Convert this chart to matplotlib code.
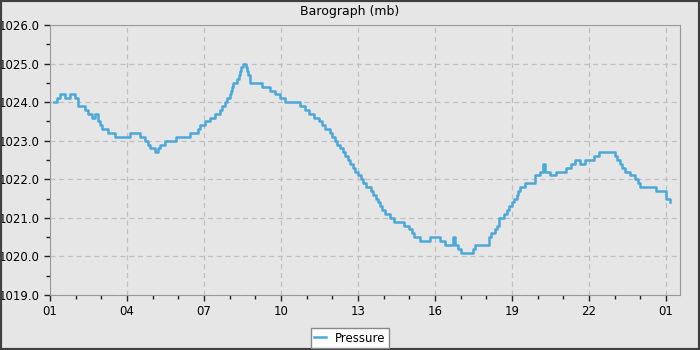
import matplotlib
matplotlib.use("Agg")
import matplotlib.pyplot as plt
from matplotlib.ticker import MultipleLocator, FuncFormatter
from matplotlib.patches import Rectangle

# hours since 01:00, pressure in mb
hours = [0.15, 0.27, 0.4, 0.58, 0.78, 0.97, 1.09, 1.25, 1.37, 1.48, 1.64, 1.75, 1.87,
         1.95, 2.03, 2.26, 2.53, 2.92, 3.12, 3.3, 3.5, 3.7, 3.8, 3.9, 4.1, 4.2, 4.3,
         4.5, 4.7, 4.9, 5.3, 5.45, 5.65, 5.75, 5.85, 6.04, 6.23, 6.43, 6.62, 6.72,
         6.82, 6.9, 7.0, 7.05, 7.1, 7.15, 7.3, 7.35, 7.4, 7.46, 7.52, 7.64, 7.67, 7.7,
         7.8, 8.1, 8.26, 8.57, 8.77, 8.96, 9.15, 9.5, 9.74, 9.93, 10.1, 10.3, 10.5,
         10.6, 10.7, 10.9, 11.0, 11.1, 11.2, 11.3, 11.4, 11.5, 11.6, 11.7, 11.8, 11.9,
         12.0, 12.1, 12.2, 12.3, 12.5, 12.6, 12.7, 12.78, 12.85, 12.95, 13.05, 13.25,
         13.4, 13.6, 13.8, 14.0, 14.1, 14.2, 14.4, 14.6, 14.8, 15.2, 15.4, 15.6, 15.7,
         15.8, 15.9, 16.0, 16.4, 16.48, 16.55, 16.95, 17.1, 17.2, 17.35, 17.42, 17.5,
         17.7, 17.8, 17.9, 18.0, 18.1, 18.2, 18.25, 18.3, 18.5, 18.7, 18.9, 19.1,
         19.2, 19.3, 19.5, 19.7, 19.9, 20.1, 20.3, 20.45, 20.65, 20.85, 21.0, 21.2,
         21.4, 21.8, 22.0, 22.1, 22.2, 22.3, 22.4, 22.6, 22.8, 22.9, 23.0, 23.4,
         23.6, 23.8, 24.0, 24.15]
pressure = [1024.0, 1024.1, 1024.2, 1024.1, 1024.2, 1024.1, 1023.9, 1023.9, 1023.8, 1023.7,
            1023.6, 1023.7, 1023.5, 1023.4, 1023.3, 1023.2, 1023.1, 1023.1, 1023.2,
            1023.2, 1023.1, 1023.0, 1022.9, 1022.8, 1022.7, 1022.8, 1022.9, 1023.0,
            1023.0, 1023.1, 1023.1, 1023.2, 1023.2, 1023.3, 1023.4, 1023.5, 1023.6,
            1023.7, 1023.8, 1023.9, 1024.0, 1024.1, 1024.2, 1024.3, 1024.4, 1024.5,
            1024.6, 1024.7, 1024.8, 1024.9, 1025.0, 1024.9, 1024.8, 1024.7, 1024.5,
            1024.5, 1024.4, 1024.3, 1024.2, 1024.1, 1024.0, 1024.0, 1023.9, 1023.8,
            1023.7, 1023.6, 1023.5, 1023.4, 1023.3, 1023.2, 1023.1, 1023.0, 1022.9,
            1022.8, 1022.7, 1022.6, 1022.5, 1022.4, 1022.3, 1022.2, 1022.1, 1022.0,
            1021.9, 1021.8, 1021.7, 1021.6, 1021.5, 1021.4, 1021.3, 1021.2, 1021.1,
            1021.0, 1020.9, 1020.9, 1020.8, 1020.7, 1020.6, 1020.5, 1020.4, 1020.4,
            1020.5, 1020.4, 1020.3, 1020.3, 1020.5, 1020.3, 1020.2, 1020.1, 1020.1,
            1020.2, 1020.3, 1020.3, 1020.5, 1020.6, 1020.7, 1020.8, 1021.0, 1021.1,
            1021.2, 1021.3, 1021.4, 1021.5, 1021.6, 1021.7, 1021.8, 1021.9, 1021.9,
            1022.1, 1022.2, 1022.4, 1022.2, 1022.1, 1022.2, 1022.2, 1022.3, 1022.4,
            1022.5, 1022.4, 1022.5, 1022.5, 1022.6, 1022.7, 1022.7, 1022.6, 1022.5,
            1022.4, 1022.3, 1022.2, 1022.1, 1022.0, 1021.9, 1021.8, 1021.8, 1021.7,
            1021.7, 1021.5, 1021.4]

bg = "#e6e6e6"
fig = plt.figure(figsize=(7, 3.5), dpi=100, facecolor=bg)
ax = fig.add_axes([50/700, 1-295/350, 630/700, 270/350], facecolor=bg)

ax.plot(hours, pressure, drawstyle="steps-post", color="#4ba8d8", lw=1.8, label="Pressure")

ax.set_xlim(0, 24.55)
ax.set_ylim(1019, 1026)
ax.xaxis.set_major_locator(MultipleLocator(3))
ax.xaxis.set_minor_locator(MultipleLocator(1))
ax.xaxis.set_major_formatter(FuncFormatter(lambda v, p: "%02d" % ((int(round(v)) + 1) % 24)))
ax.yaxis.set_major_locator(MultipleLocator(1))
ax.yaxis.set_minor_locator(MultipleLocator(0.5))
ax.yaxis.set_major_formatter(FuncFormatter(lambda v, p: "%.1f" % v))
ax.tick_params(which="both", labelsize=8.5, color="#222222", width=1)
ax.tick_params(which="major", length=4)
ax.tick_params(which="minor", length=3)
ax.grid(True, which="major", ls=(0, (4, 3)), color="#c0c0c0", lw=0.9)
for s in ax.spines.values():
    s.set_color("#999999")

fig.text(0.5, 1-12/350, "Barograph (mb)", ha="center", va="center", fontsize=9)
fig.legend(loc="center", bbox_to_anchor=(350/700, 1-338/350), fontsize=8.5, frameon=True,
           fancybox=False, edgecolor="#888888", facecolor="white", framealpha=1,
           handlelength=1, borderpad=0.3)
fig.patches.append(Rectangle((0, 0), 1, 1, transform=fig.transFigure, fill=False,
                             edgecolor="#404040", lw=3))
fig.savefig("out.png", dpi=100, facecolor=bg)
